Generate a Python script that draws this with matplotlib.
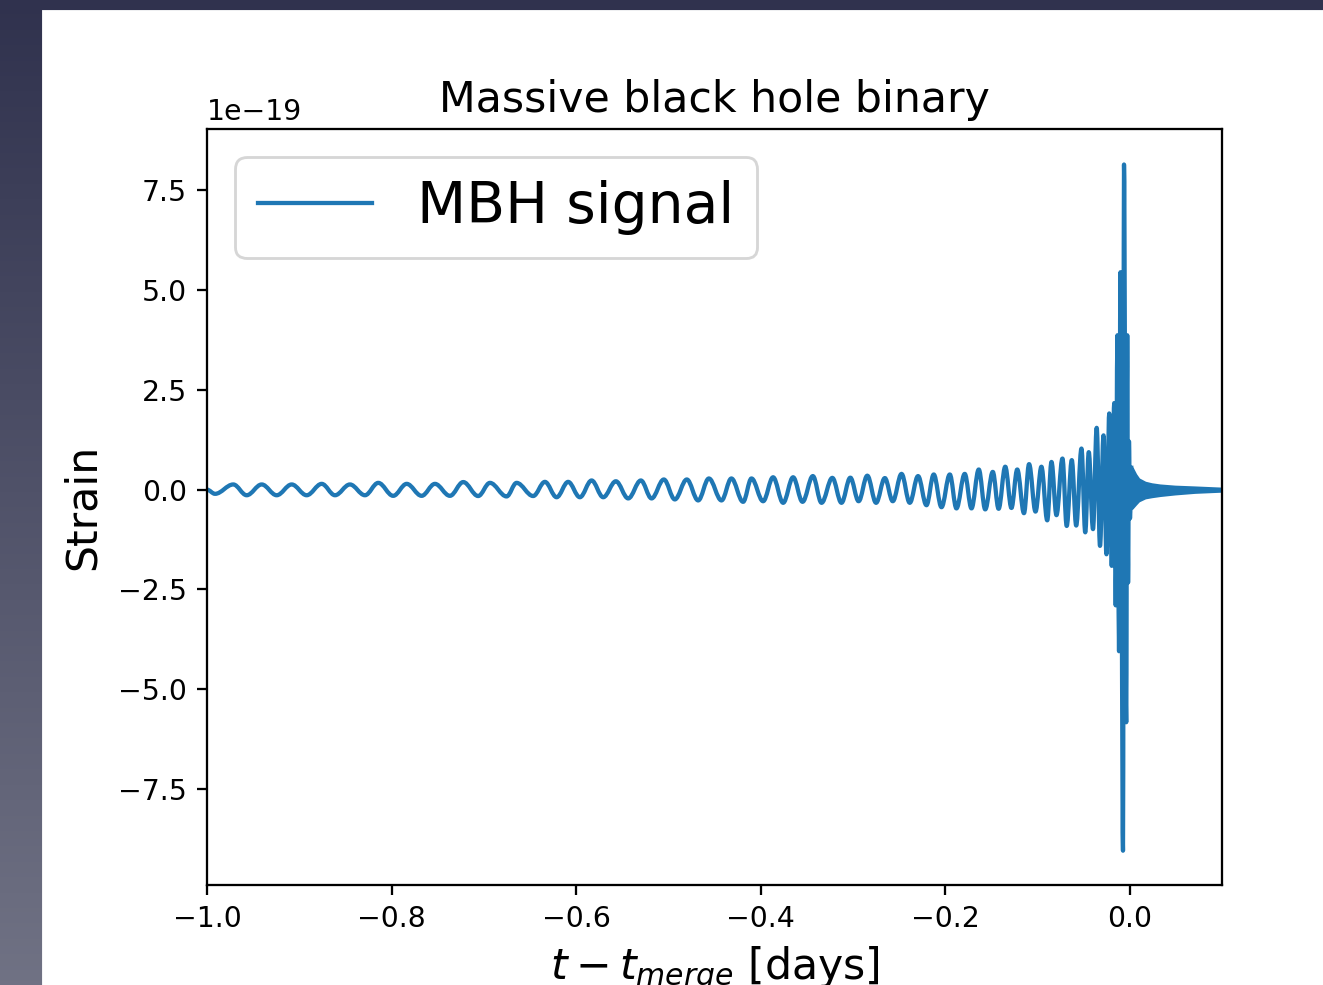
import numpy as np
import matplotlib
matplotlib.use("Agg")
import matplotlib.pyplot as plt
from matplotlib.patches import Rectangle, PathPatch
from matplotlib.path import Path
from matplotlib.lines import Line2D

# extrema of the chirp (time in days, strain in 1e-19)
t_days = [
    -1.0000, -0.9913, -0.9715, -0.9570, -0.9407, -0.9245, -0.9082, -0.8920,
    -0.8757, -0.8613, -0.8451, -0.8288, -0.8144, -0.7982, -0.7836, -0.7674,
    -0.7530, -0.7367, -0.7223, -0.7061, -0.6934, -0.6753, -0.6645, -0.6465,
    -0.6338, -0.6211, -0.6086, -0.5959, -0.5832, -0.5706, -0.5569, -0.5435,
    -0.5298, -0.5182, -0.5049, -0.4930, -0.4800, -0.4677, -0.4561, -0.4424,
    -0.4317, -0.4190, -0.4099, -0.3973, -0.3865, -0.3756, -0.3648, -0.3546,
    -0.3434, -0.3340, -0.3223, -0.3124, -0.3028, -0.2938, -0.2844, -0.2749,
    -0.2654, -0.2568, -0.2473, -0.2384, -0.2294, -0.2203, -0.2124, -0.2040,
    -0.1950, -0.1878, -0.1788, -0.1715, -0.1636, -0.1566, -0.1484, -0.1421,
    -0.1349, -0.1282, -0.1219, -0.1146, -0.1091, -0.1021, -0.0957, -0.0894,
    -0.0848, -0.0794, -0.0729, -0.0683, -0.0628, -0.0580, -0.0523, -0.0482,
    -0.0444, -0.0398, -0.0358, -0.0322, -0.0284, -0.0252, -0.0222, -0.0195,
    -0.0168, -0.0152, -0.0133, -0.0116, -0.0100, -0.0073, -0.0062, -0.0038,
    -0.0027, -0.0018, -0.0008, 0.0003, 0.0016,
]
strain = [
    0.00, -0.105, 0.13, -0.14, 0.13, -0.14, 0.13, -0.14,
    0.145, -0.14, 0.13, -0.14, 0.17, -0.155, 0.145, -0.155,
    0.145, -0.155, 0.19, -0.16, 0.17, -0.17, 0.17, -0.16,
    0.195, -0.19, 0.195, -0.19, 0.23, -0.19, 0.21, -0.22,
    0.23, -0.22, 0.255, -0.245, 0.255, -0.27, 0.28, -0.27,
    0.28, -0.305, 0.28, -0.29, 0.31, -0.33, 0.31, -0.305,
    0.34, -0.33, 0.295, -0.33, 0.30, -0.29, 0.35, -0.33,
    0.29, -0.29, 0.395, -0.33, 0.34, -0.39, 0.38, -0.44,
    0.38, -0.47, 0.395, -0.47, 0.505, -0.495, 0.445, -0.48,
    0.575, -0.46, 0.505, -0.59, 0.64, -0.55, 0.575, -0.77,
    0.695, -0.64, 0.78, -0.91, 0.74, -0.90, 1.03, -1.07,
    0.94, -0.99, 1.55, -1.41, 1.36, -1.62, 1.91, -1.91,
    2.17, -2.90, 3.87, -4.05, 5.45, -9.05, 8.15, -5.83,
    3.87, -2.33, 1.21, -0.72, 0.55,
]

# ringdown tail after merger, drawn as an envelope
tail_t = [0.0016, 0.0054, 0.0090, 0.0163, 0.0235, 0.0325, 0.0488, 0.0704, 0.1000]
tail_upper = [0.54, 0.37, 0.25, 0.16, 0.12, 0.09, 0.06, 0.04, 0.01]
tail_lower = [-0.45, -0.35, -0.26, -0.18, -0.15, -0.12, -0.08, -0.04, -0.01]

W, H = 1323, 985
DPI = 1310 / 6.4
C0 = "#1f77b4"
scale = 1e-19


def wave_path(t, v):
    # smooth half-cycles between extrema (flat tangent at each peak/trough)
    verts = [(t[0], v[0])]
    codes = [Path.MOVETO]
    for i in range(len(t) - 1):
        dt = t[i + 1] - t[i]
        verts += [(t[i] + 0.364 * dt, v[i]), (t[i + 1] - 0.364 * dt, v[i + 1]), (t[i + 1], v[i + 1])]
        codes += [Path.CURVE4] * 3
    return Path(verts, codes)


fig = plt.figure(figsize=(W / DPI, H / DPI), dpi=DPI)

# slide background behind the figure
bg = fig.add_axes([0, 0, 1, 1], zorder=-10)
top = np.array([48, 50, 78]) / 255
bottom = np.array([112, 114, 132]) / 255
grad = np.linspace(0, 1, 256)[:, None, None]
img = np.repeat(top + (bottom - top) * grad, 4, axis=1)
bg.imshow(img, aspect="auto", extent=[0, 1, 0, 1], origin="upper")
bg.add_patch(Rectangle((43 / W, 0), 1 - 43 / W, 1 - 11 / H, color="white"))
bg.set_xlim(0, 1)
bg.set_ylim(0, 1)
bg.axis("off")

ax = fig.add_axes([207 / W, 100 / H, 1015 / W, 756 / H])
ax.add_patch(PathPatch(wave_path(t_days, np.array(strain) * scale), fill=False,
                       edgecolor=C0, lw=1.5, joinstyle="round", capstyle="projecting"))
ax.fill_between(tail_t, np.array(tail_lower) * scale, np.array(tail_upper) * scale,
                color=C0, lw=1.5)
ax.set_xlim(-1.0, 0.1)
ax.set_ylim(-9.91e-19, 9.04e-19)

ax.set_title("Massive black hole binary", fontsize=15)
ax.set_xlabel(r"$t - t_{merge}$ [days]", fontsize=15)
ax.set_ylabel("Strain", fontsize=15, labelpad=5)
ax.legend(handles=[Line2D([], [], color=C0, lw=1.5, label="MBH signal")],
          loc="upper left", fontsize=20)

fig.savefig("out.png", dpi=DPI)
